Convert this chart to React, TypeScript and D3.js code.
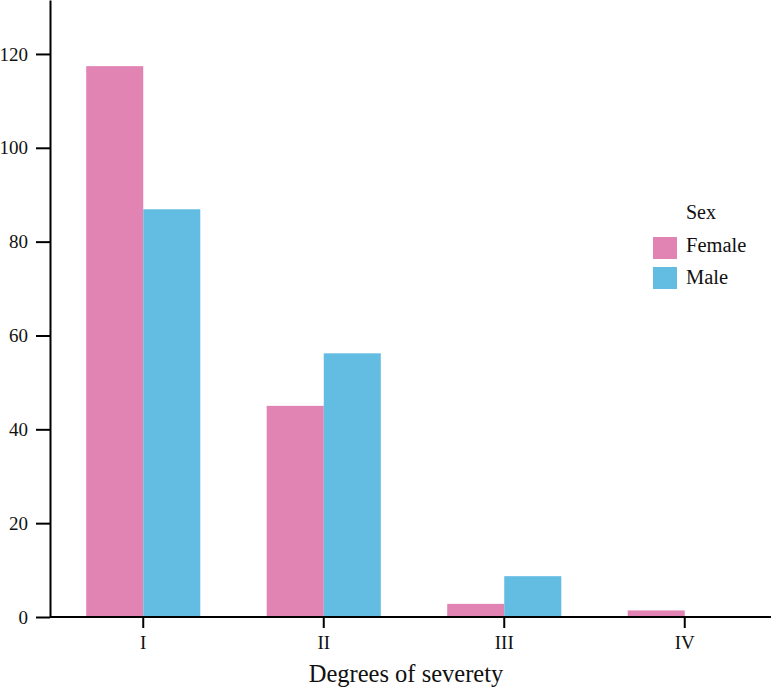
import React, { useEffect, useRef } from "react";
import * as d3 from "d3";

// Data
const categories = ["I", "II", "III", "IV"];
const seriesNames = ["Female", "Male"];
const femaleValues = [117.4, 45, 2.8, 1.4];
const maleValues = [86.9, 56.2, 8.7, 0];
const yTicks = [0, 20, 40, 60, 80, 100, 120];
const colors = ["#e184b4", "#63bce2"];

const W = 771;
const H = 688;
const FONT = "'Liberation Serif', 'DejaVu Serif', serif";

const App = () => {
  const svgRef = useRef<SVGSVGElement | null>(null);

  useEffect(() => {
    document.body.style.margin = "0";
    const svg = d3.select(svgRef.current);
    svg.selectAll("*").remove();

    const axisX = 50;
    const baseY = 617;

    const x = d3
      .scaleBand()
      .domain(categories)
      .range([53, 775])
      .paddingInner(0.368)
      .paddingOuter(0.184);

    const sub = d3
      .scaleBand()
      .domain(seriesNames)
      .range([0, x.bandwidth()]);

    const y = d3.scaleLinear().domain([0, 131.5]).range([baseY, 0]);

    const rows = categories.map((c, i) => ({
      cat: c,
      vals: [femaleValues[i], maleValues[i]],
    }));

    // Bars
    const groups = svg
      .append("g")
      .selectAll("g")
      .data(rows)
      .enter()
      .append("g")
      .attr("transform", (d) => `translate(${x(d.cat)},0)`);

    groups
      .selectAll("rect")
      .data((d) => d.vals.map((v, j) => ({ v, s: seriesNames[j], j })))
      .enter()
      .append("rect")
      .attr("x", (d) => sub(d.s) as number)
      .attr("y", (d) => y(d.v))
      .attr("width", sub.bandwidth())
      .attr("height", (d) => baseY - y(d.v))
      .attr("fill", (d) => colors[d.j]);

    // Y axis
    const yAxis = svg
      .append("g")
      .attr("transform", `translate(${axisX},0)`)
      .call(
        d3
          .axisLeft(y)
          .tickValues(yTicks)
          .tickSize(14)
          .tickPadding(8)
          .tickSizeOuter(0)
      );
    yAxis.select(".domain").attr("stroke", "#000").attr("stroke-width", 2);
    yAxis.selectAll(".tick line").attr("stroke", "#000").attr("stroke-width", 2);
    yAxis
      .selectAll(".tick text")
      .attr("fill", "#111")
      .style("font-family", FONT)
      .style("font-size", "19px");

    // X axis
    const xAxis = svg
      .append("g")
      .attr("transform", `translate(0,${baseY})`)
      .call(d3.axisBottom(x).tickSize(11).tickPadding(8).tickSizeOuter(0));
    xAxis
      .select(".domain")
      .attr("d", `M${axisX},0H${W}`)
      .attr("stroke", "#000")
      .attr("stroke-width", 2);
    xAxis.selectAll(".tick line").attr("stroke", "#000").attr("stroke-width", 2);
    xAxis
      .selectAll(".tick text")
      .attr("fill", "#111")
      .style("font-family", FONT)
      .style("font-size", "19px");

    // X title
    svg
      .append("text")
      .attr("x", 406)
      .attr("y", 682)
      .attr("text-anchor", "middle")
      .attr("fill", "#111")
      .style("font-family", FONT)
      .style("font-size", "24.5px")
      .text("Degrees of severety");

    // Legend
    const legend = svg.append("g").attr("transform", "translate(653,0)");
    legend
      .append("text")
      .attr("x", 33)
      .attr("y", 219)
      .attr("fill", "#111")
      .style("font-family", FONT)
      .style("font-size", "20px")
      .text("Sex");
    seriesNames.forEach((s, i) => {
      legend
        .append("rect")
        .attr("x", 0)
        .attr("y", 237 + i * 30)
        .attr("width", 24)
        .attr("height", 22)
        .attr("fill", colors[i]);
      legend
        .append("text")
        .attr("x", 33)
        .attr("y", 252 + i * 32)
        .attr("fill", "#111")
        .style("font-family", FONT)
        .style("font-size", "20.5px")
        .text(s);
    });
  }, []);

  return (
    <svg
      ref={svgRef}
      width={W}
      height={H}
      style={{ display: "block", background: "#fff" }}
    />
  );
};

export default App;
